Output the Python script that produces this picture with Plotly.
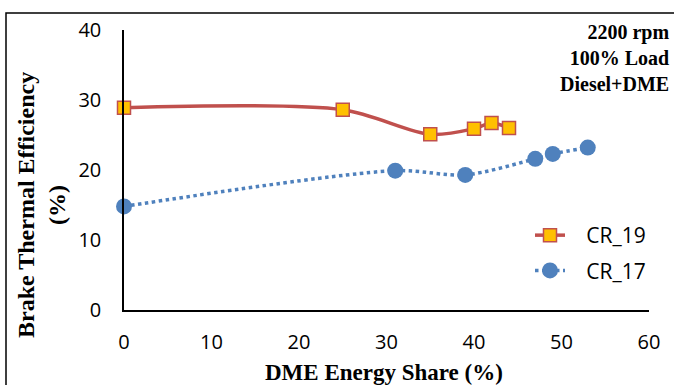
import plotly.graph_objects as go

x_cr19 = [0, 25, 35, 40, 42, 44]
y_cr19 = [28.9, 28.6, 25.1, 25.9, 26.7, 26.0]
x_cr17 = [0, 31, 39, 47, 49, 53]
y_cr17 = [14.8, 19.9, 19.3, 21.6, 22.3, 23.2]
x_ticks = [0, 10, 20, 30, 40, 50, 60]
y_ticks = [0, 10, 20, 30, 40]

W, H = 674, 385
L, R, T, B = 124, 25, 30, 75
pw, ph = W - L - R, H - T - B

def px(p):
    return (p - L) / pw

def py(p):
    return (H - B - p) / ph

tick_font = dict(family="Open Sans, Lato, sans-serif", size=20, color="black")
legend_font = dict(family="Open Sans, Lato, sans-serif", size=21, color="black")
serif_bold = dict(family="Liberation Serif, Times New Roman, serif", color="black")

fig = go.Figure()
fig.add_trace(go.Scatter(
    x=x_cr19, y=y_cr19, name="\u00a0\u00a0\u00a0CR_19", mode="lines+markers",
    line=dict(color="#C0504D", width=3.5, shape="spline", smoothing=0.85),
    marker=dict(symbol="square", size=13, color="#FFC000",
                line=dict(color="#C0504D", width=1.5)),
    cliponaxis=False, legendgroup="a",
))
fig.add_trace(go.Scatter(
    x=x_cr17, y=y_cr17, name="\u00a0\u00a0\u00a0CR_17", mode="lines+markers",
    line=dict(color="#4F81BD", width=3.5, dash="dot", shape="spline", smoothing=0.85),
    marker=dict(symbol="circle", size=16, color="#4F81BD"),
    cliponaxis=False, legendgroup="b",
))

fig.update_layout(
    width=W, height=H,
    margin=dict(l=L, r=R, t=T, b=B),
    paper_bgcolor="white", plot_bgcolor="white",
    showlegend=True,
    legend=dict(x=px(530), y=py(215), xanchor="left", yanchor="top",
                font=legend_font, bgcolor="rgba(0,0,0,0)", tracegroupgap=5),
    xaxis=dict(range=[0, 60], tickvals=x_ticks, showgrid=False, zeroline=False,
               showline=True, linecolor="black", linewidth=1.5, ticks="",
               tickfont=tick_font, ticklabelstandoff=13),
    yaxis=dict(range=[0, 40], tickvals=y_ticks, showgrid=False, zeroline=False,
               showline=True, linecolor="black", linewidth=1.5, ticks="",
               tickfont=tick_font, ticklabelstandoff=17),
    shapes=[dict(type="rect", xref="paper", yref="paper",
                 x0=px(6), x1=px(720), y0=py(420), y1=py(13),
                 line=dict(color="black", width=1.5), fillcolor="rgba(0,0,0,0)")],
    annotations=[
        dict(text="<b>Brake Thermal Efficiency<br>(%)</b>", xref="paper", yref="paper",
             x=px(41), y=py(205), textangle=-90, showarrow=False,
             font=dict(size=24, **serif_bold), xanchor="center", yanchor="middle"),
        dict(text="<b>DME Energy Share (%)</b>", xref="paper", yref="paper",
             x=px(384), y=py(372), showarrow=False,
             font=dict(size=23, **serif_bold), xanchor="center", yanchor="middle"),
        dict(text="<b>2200 rpm<br>100% Load<br>Diesel+DME</b>", xref="paper", yref="paper",
             x=px(671), y=py(19), showarrow=False, align="right",
             font=dict(size=20, **serif_bold), xanchor="right", yanchor="top"),
    ],
)

fig.write_html("out.html")
